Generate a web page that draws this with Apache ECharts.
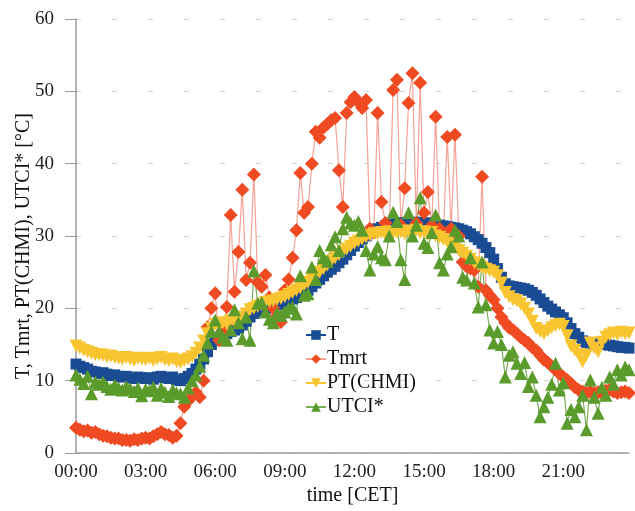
<!DOCTYPE html>
<html>
<head>
<meta charset="utf-8">
<script src="https://cdn.jsdelivr.net/npm/echarts@6/dist/echarts.min.js"></script>
<style>
html,body{margin:0;padding:0;background:#fff;}
#chart{width:635px;height:511px;}
</style>
</head>
<body>
<div id="chart"></div>
<script>
// time stamps every 10 minutes, 00:00 .. 23:50
var times = [];
for (var h = 0; h < 24; h++) {
  for (var m = 0; m < 60; m += 10) {
    times.push((h < 10 ? '0' : '') + h + ':' + (m < 10 ? '0' : '') + m);
  }
}
var tickLabels = ['00:00','03:00','06:00','09:00','12:00','15:00','18:00','21:00'];

var T = [
  12.3,12.0,11.8,11.6,11.3,11.2,
  11.0,11.1,10.9,10.7,10.8,10.6,
  10.5,10.6,10.4,10.3,10.5,10.4,
  10.3,10.4,10.2,10.5,10.6,10.4,
  10.3,10.5,10.1,10.0,10.3,10.6,
  11.0,11.6,12.3,13.0,14.0,15.0,
  15.6,16.0,16.3,16.5,16.8,17.0,
  17.3,17.7,18.2,18.8,19.3,19.6,
  19.8,20.0,20.1,20.3,20.5,20.7,
  20.9,21.1,21.3,21.5,21.8,22.1,
  22.5,23.0,23.5,24.0,24.5,25.0,
  25.4,25.8,26.3,26.8,27.4,28.0,
  28.6,29.1,29.6,30.0,30.4,30.8,
  31.0,31.2,31.4,31.5,31.6,31.7,
  31.8,31.8,31.9,31.8,31.9,31.8,
  31.8,31.7,31.8,31.6,31.5,31.4,
  31.3,31.2,31.1,31.0,30.8,30.6,
  30.3,29.9,29.5,29.0,28.4,27.7,
  26.8,25.5,24.3,23.4,23.1,23.0,
  22.9,22.8,22.7,22.5,22.2,21.8,
  21.3,20.8,20.3,19.9,19.5,19.1,
  18.7,18.0,17.2,16.5,16.0,15.5,
  15.3,15.2,15.1,15.0,15.1,15.0,
  14.9,14.8,14.7,14.6,14.6,14.5
];

var Tmrt = [
  3.5,3.2,3.0,3.1,2.8,2.9,
  2.6,2.4,2.3,2.1,2.0,2.0,
  1.8,1.8,1.7,1.9,1.8,2.0,
  2.1,2.0,2.3,2.6,2.9,2.6,
  2.5,2.1,2.4,4.1,6.4,7.2,
  7.8,8.4,7.7,10.0,17.4,20.0,
  22.1,15.6,17.0,20.2,32.9,22.3,
  27.8,36.4,23.9,26.3,38.5,23.6,
  23.0,24.6,21.5,20.0,19.0,18.1,
  22.5,24.0,27.0,30.8,38.7,33.2,
  34.0,40.0,44.4,43.6,45.0,45.5,
  46.0,46.3,39.1,34.0,47.0,48.5,
  49.2,48.5,47.7,48.8,31.0,30.5,
  47.0,34.7,31.8,30.5,50.2,51.6,
  31.5,36.6,48.4,52.5,31.8,51.2,
  33.2,36.1,31.5,46.5,31.0,30.5,
  43.7,31.0,44.0,30.0,26.4,25.8,
  25.5,25.3,23.0,38.2,22.5,21.8,
  21.2,20.0,18.8,18.0,17.3,17.0,
  16.5,16.0,15.6,15.2,14.6,14.2,
  13.5,12.9,12.5,12.0,11.5,11.0,
  10.5,10.1,9.6,9.1,8.7,8.5,
  8.3,8.5,8.3,8.4,8.3,8.6,
  8.7,8.5,8.3,8.4,8.5,8.3
];

var PT = [
  14.8,14.5,14.2,14.0,13.8,13.6,
  13.6,13.5,13.3,13.4,13.2,13.1,
  13.0,13.2,13.0,12.8,13.1,13.0,
  12.9,13.1,12.8,13.0,13.2,12.9,
  12.8,13.0,12.6,12.5,12.8,13.0,
  13.3,13.8,14.5,15.5,16.5,17.2,
  17.8,17.5,18.0,17.8,18.3,18.0,
  18.5,18.8,19.2,19.8,20.0,20.3,
  20.5,20.8,20.9,21.0,21.2,21.4,
  21.6,21.9,22.2,22.5,22.8,23.2,
  23.6,24.0,24.5,25.0,25.5,26.0,
  26.5,27.0,27.4,27.8,28.2,28.6,
  29.0,29.3,29.6,29.9,30.1,30.3,
  30.3,30.5,30.2,30.6,30.4,30.5,
  30.6,30.3,30.7,30.5,30.8,30.4,
  30.6,30.2,30.5,30.0,29.8,29.5,
  29.2,28.8,28.5,28.0,27.6,27.2,
  26.8,26.3,26.0,25.6,25.4,25.2,
  25.0,24.5,23.5,22.2,21.6,21.2,
  21.0,20.6,20.0,19.2,18.2,17.2,
  16.8,16.5,16.9,17.3,17.6,17.8,
  17.5,16.2,14.8,14.2,13.6,12.6,
  13.5,15.2,14.5,14.0,15.3,16.0,
  16.3,16.6,16.4,16.7,16.5,16.6
];

var UTCI = [
  10.8,10.2,9.6,10.6,8.2,9.8,
  9.5,9.8,9.2,8.8,9.4,9.0,
  8.7,9.2,8.9,8.5,9.0,7.9,
  8.8,8.6,9.1,8.0,8.9,8.4,
  7.8,8.7,8.3,8.2,7.7,9.0,
  10.0,10.8,12.0,13.5,15.2,16.8,
  18.4,16.8,16.0,15.6,17.0,19.8,
  18.0,15.8,18.8,15.6,25.2,20.7,
  20.8,19.5,18.5,18.0,19.4,19.0,
  19.5,20.0,20.2,19.2,24.5,21.8,
  22.0,25.7,24.0,28.0,27.0,26.5,
  28.8,29.9,28.0,31.0,32.6,31.8,
  31.5,32.0,30.8,28.0,25.3,27.5,
  28.5,27.0,26.7,30.0,33.3,32.0,
  26.7,24.0,33.2,30.0,31.5,35.3,
  29.0,28.4,30.5,32.9,26.3,25.3,
  27.5,28.5,30.8,30.0,24.3,23.9,
  27.0,23.5,20.2,26.4,20.5,17.0,
  15.2,16.8,15.0,10.5,13.5,14.0,
  12.4,11.0,12.5,9.2,10.5,8.0,
  5.0,6.4,7.7,9.5,12.4,8.7,
  9.7,4.1,6.0,5.0,6.4,8.0,
  3.2,10.1,7.7,5.5,9.1,8.0,
  10.5,9.5,11.5,10.8,11.9,11.5
];

var seriesNames = ['T','Tmrt','PT(CHMI)','UTCI*'];

var FONT = '"Liberation Serif", "DejaVu Serif", serif';
var chart = echarts.init(document.getElementById('chart'), null, {renderer: 'canvas'});

chart.setOption({
  animation: false,
  backgroundColor: '#ffffff',
  textStyle: {fontFamily: FONT},
  grid: {left: 76, right: 6, top: 19, bottom: 58, containLabel: false},
  legend: {
    orient: 'vertical',
    left: 300,
    top: 320,
    itemWidth: 20,
    itemHeight: 12,
    itemGap: 4,
    data: seriesNames,
    textStyle: {fontFamily: FONT, fontSize: 20, color: '#111', padding: [0,0,0,-4]}
  },
  xAxis: {
    type: 'category',
    data: times,
    boundaryGap: false,
    name: 'time [CET]',
    nameLocation: 'middle',
    nameGap: 33,
    nameMoveOverlap: false,
    nameTextStyle: {fontFamily: FONT, fontSize: 20, color: '#111'},
    axisLine: {lineStyle: {color: '#9a9a9a', width: 1.5}},
    axisTick: {show: false},
    axisLabel: {
      interval: function (idx, val) { return tickLabels.indexOf(val) >= 0; },
      fontFamily: FONT, fontSize: 19, color: '#222', margin: 10
    },
    splitLine: {show: false}
  },
  yAxis: {
    type: 'value',
    min: 0, max: 60, interval: 10,
    name: 'T, Tmrt, PT(CHMI), UTCI* [°C]',
    nameLocation: 'middle',
    nameGap: 42,
    nameMoveOverlap: false,
    nameTextStyle: {fontFamily: FONT, fontSize: 20, color: '#111', padding: [0, 20, 0, 0]},
    axisLine: {show: true, lineStyle: {color: '#9a9a9a', width: 1.5}},
    axisTick: {show: true, inside: false, length: 11, lineStyle: {color: '#9a9a9a'}},
    axisLabel: {fontFamily: FONT, fontSize: 19, color: '#222', margin: 22},
    splitLine: {show: true, lineStyle: {color: '#d2d2d2', type: [5, 31], width: 1}}
  },
  series: [
    {
      name: 'T', type: 'line', data: T, showAllSymbol: true,
      symbol: 'rect', symbolSize: 11,
      itemStyle: {color: '#1a4c94'},
      lineStyle: {color: '#1a4c94', width: 1}
    },
    {
      name: 'Tmrt', type: 'line', data: Tmrt, showAllSymbol: true,
      symbol: 'diamond', symbolSize: 14,
      itemStyle: {color: '#ef4a22'},
      lineStyle: {color: '#f5a295', width: 1.2}
    },
    {
      name: 'PT(CHMI)', type: 'line', data: PT, showAllSymbol: true,
      symbol: 'triangle', symbolRotate: 180, symbolSize: 13,
      itemStyle: {color: '#f8c531'},
      lineStyle: {color: '#f8c531', width: 1}
    },
    {
      name: 'UTCI*', type: 'line', data: UTCI, showAllSymbol: true,
      symbol: 'triangle', symbolSize: 13,
      itemStyle: {color: '#5a9b2c'},
      lineStyle: {color: '#79ad58', width: 1.2}
    }
  ]
});
</script>
</body>
</html>
